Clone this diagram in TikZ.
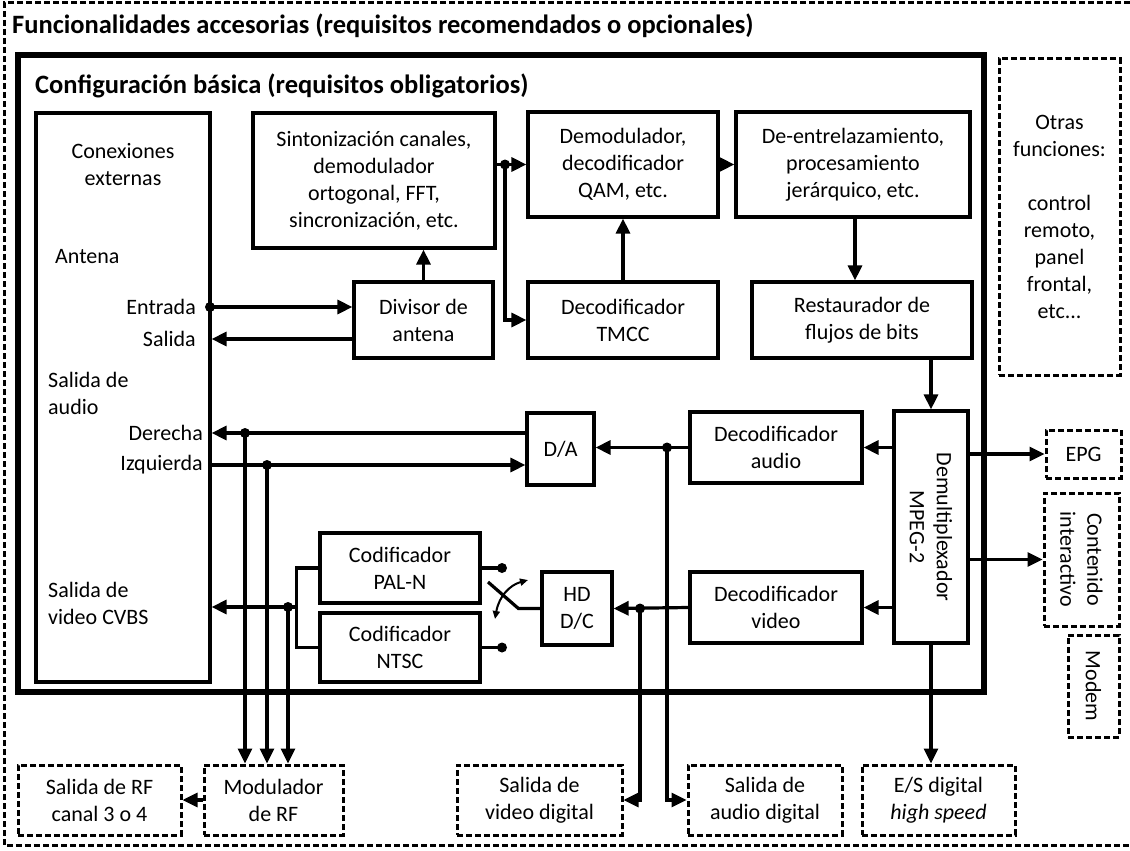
\documentclass[tikz,border=0pt]{standalone}
\usepackage{fontspec}
\setmainfont{Carlito}
\usetikzlibrary{arrows.meta,calc}
\tikzset{
  blockbox/.style={draw,line width=3.2pt,inner sep=0pt,align=center,
    font=\fontsize{22}{27}\selectfont},
  optbox/.style={draw,line width=3pt,dash pattern=on 6pt off 3pt,inner sep=0pt,
    align=center,font=\fontsize{22}{27}\selectfont},
  optline/.style={line width=3pt,dash pattern=on 6pt off 3pt},
  sigarrow/.style={-{Triangle[length=15pt,width=14pt]},line width=3.2pt},
  sigline/.style={line width=3.2pt},
  swarrow/.style={{Triangle[length=8pt,width=7pt]}-{Triangle[length=8pt,width=7pt]},line width=2pt},
  junction/.style={circle,fill,inner sep=0pt,minimum size=10pt},
  sidelabel/.style={font=\fontsize{22}{27}\selectfont,inner sep=0pt},
  headlabel/.style={font=\bfseries\fontsize{26.5}{30}\selectfont,anchor=west,inner sep=0pt}
}
\begin{document}
\begin{tikzpicture}[x=1pt,y=-1pt]
  \useasboundingbox (0,0) rectangle (1130,851);
  % frames and titles
  \draw[optline] (1130,3) -- (4,3) -- (4,845) -- (1130,845);
  \node[headlabel] (titacc) at (12,26) {Funcionalidades accesorias (requisitos recomendados o opcionales)};
  \draw[line width=5.5pt] (18,55) rectangle (984,692);
  \node[headlabel] (titbas) at (35,86) {Configuración básica (requisitos obligatorios)};

  % external connections
  \node[blockbox,minimum width=174pt,minimum height=569pt] (conex) at (123,397.5) {};
  \node[sidelabel,align=center] (lblconex) at (123,165) {Conexiones\\externas};
  \node[sidelabel,anchor=west] (lblant) at (55,257) {Antena};
  \node[sidelabel,anchor=east] (lblent) at (196,307) {Entrada};
  \node[sidelabel,anchor=east] (lblsal) at (196,339) {Salida};
  \node[sidelabel,align=left,anchor=west] (lblaud) at (48,393) {Salida de\\audio};
  \node[sidelabel,anchor=east] (lblder) at (203,433) {Derecha};
  \node[sidelabel,anchor=east] (lblizq) at (203,465) {Izquierda};
  \node[sidelabel,align=left,anchor=west] (lblcvbs) at (48,603) {Salida de\\video CVBS};

  % receiver chain
  \node[blockbox,minimum width=242pt,minimum height=135pt] (sinton) at (374,180.5)
    {Sintonización canales,\\demodulador\\ortogonal, FFT,\\sincronización, etc.};
  \node[blockbox,minimum width=190pt,minimum height=105pt] (demod) at (623,164.5)
    {Demodulador,\\decodificador\\QAM, etc.};
  \node[blockbox,minimum width=234pt,minimum height=105pt] (deent) at (853,164.5)
    {De-entrelazamiento,\\procesamiento\\jerárquico, etc.};
  \node[blockbox,minimum width=139pt,minimum height=76pt] (divisor) at (423.5,320)
    {Divisor de\\antena};
  \node[blockbox,minimum width=190pt,minimum height=76pt] (tmcc) at (623,320)
    {Decodificador\\TMCC};
  \node[blockbox,minimum width=220pt,minimum height=76pt] (restaur) at (862,320)
    {Restaurador de\\flujos de bits};

  % decoding and outputs
  \node[blockbox,minimum width=74pt,minimum height=232pt] (demux) at (931,527) {};
  \node[sidelabel,align=center,rotate=-90] (lbldemux) at (demux.center) {Demultiplexador\\MPEG-2};
  \node[blockbox,minimum width=172pt,minimum height=71pt] (decaud) at (776,447.5)
    {Decodificador\\audio};
  \node[blockbox,minimum width=172pt,minimum height=71pt] (decvid) at (776,607.5)
    {Decodificador\\video};
  \node[blockbox,minimum width=67pt,minimum height=72pt] (da) at (560.5,449) {D/A};
  \node[blockbox,minimum width=70pt,minimum height=73pt] (hddc) at (577,608.5) {HD\\D/C};
  \node[blockbox,minimum width=160pt,minimum height=70pt] (paln) at (400,568)
    {Codificador\\PAL-N};
  \node[blockbox,minimum width=160pt,minimum height=69pt] (ntsc) at (400,647.5)
    {Codificador\\NTSC};

  % optional functions
  \node[optbox,minimum width=121pt,minimum height=316pt] (otras) at (1059.5,217)
    {Otras\\funciones:\\[27pt]control\\remoto,\\panel\\frontal,\\etc...};
  \node[optbox,minimum width=75pt,minimum height=48pt] (epg) at (1083.5,454) {EPG};
  \node[optbox,minimum width=75pt,minimum height=133pt] (contenido) at (1081.5,559.5) {};
  \node[sidelabel,align=center,rotate=-90] (lblcont) at (contenido.center) {Contenido\\interactivo};
  \node[optbox,minimum width=51pt,minimum height=102pt] (modem) at (1093.5,686) {};
  \node[sidelabel,rotate=-90] (lblmodem) at (modem.center) {Modem};
  \node[optbox,minimum width=163pt,minimum height=70pt] (rfout) at (99.5,800)
    {Salida de RF\\canal 3 o 4};
  \node[optbox,minimum width=139pt,minimum height=70pt] (modrf) at (273.5,800)
    {Modulador\\de RF};
  \node[optbox,minimum width=165pt,minimum height=70pt] (viddig) at (539.5,800)
    {Salida de\\video digital};
  \node[optbox,minimum width=154pt,minimum height=70pt] (auddig) at (765,800)
    {Salida de\\audio digital};
  \node[optbox,minimum width=153pt,minimum height=70pt] (esdig) at (938.5,800)
    {E/S digital\\\textit{high speed}};

  % junctions
  \node[junction] (jent) at (210,307) {};
  \node[junction] (jsin) at (505,164.5) {};
  \node[junction] (jder) at (245,433) {};
  \node[junction] (jizq) at (267,465) {};
  \node[junction] (jcvbs) at (288,607) {};
  \node[junction] (jaud) at (667,447.5) {};
  \node[junction] (jvid) at (640,608.5) {};
  \node[junction] (jpal) at (502,568) {};
  \node[junction] (jntsc) at (502,647.5) {};

  % antenna and front end
  \draw[sigarrow] (jent.center) -- (divisor.west |- jent);
  \draw[sigarrow] (divisor.west |- lblsal) -- (conex.east |- lblsal);
  \draw[sigarrow] (divisor.north) -- (divisor.north |- sinton.south);
  \draw[sigline] (sinton.east |- jsin) -- (jsin.center);
  \draw[sigarrow] (jsin.center) -- (demod.west);
  \draw[sigarrow] (jsin.center) |- (tmcc.west);
  \draw[sigarrow] (tmcc.north) -- (demod.south);
  \draw[sigarrow] (demod.east) -- (deent.west);
  \draw[sigarrow] (deent.south -| 855,0) -- (restaur.north -| 855,0);
  \draw[sigarrow] (restaur.south -| demux.north) -- (demux.north);

  % audio
  \draw[sigarrow] (demux.west |- decaud.east) -- (decaud.east);
  \draw[sigarrow] (decaud.west) -- (da.east |- decaud.west);
  \draw[sigarrow] (jaud.center) |- (auddig.west);
  \draw[sigarrow] (da.west |- jder) -- (conex.east |- jder);
  \draw[sigarrow] (conex.east |- jizq) -- (da.west |- jizq);

  % video
  \draw[sigarrow] (demux.west |- decvid.east) -- (decvid.east);
  \draw[sigarrow] (decvid.west) -- (hddc.east);
  \draw[sigarrow] (jvid.center) |- (viddig.east);
  \draw[sigline] (paln.west) -- ++(-22,0) |- (ntsc.west);
  \draw[sigarrow] (298,607) -- (conex.east |- jcvbs);
  \draw[sigline] (paln.east |- jpal) -- (jpal.center);
  \draw[sigline] (ntsc.east |- jntsc) -- (jntsc.center);
  \draw[sigline] (hddc.west) -- ++(-22,0) -- (488,582);
  \draw[swarrow] (495,619) .. controls (499,596) and (510,585) .. (528,580);

  % RF modulator
  \draw[sigarrow] (jder.center) -- (jder |- modrf.north);
  \draw[sigarrow] (jizq.center) -- (jizq |- modrf.north);
  \draw[sigarrow] (jcvbs.center) -- (jcvbs |- modrf.north);
  \draw[sigarrow] (modrf.west) -- (rfout.east);

  % demultiplexer outputs
  \draw[sigarrow] (demux.east |- epg.west) -- (epg.west);
  \draw[sigarrow] (demux.east |- contenido.west) -- (contenido.west);
  \draw[sigarrow] (demux.south) -- (demux.south |- esdig.north);
\end{tikzpicture}
\end{document}
